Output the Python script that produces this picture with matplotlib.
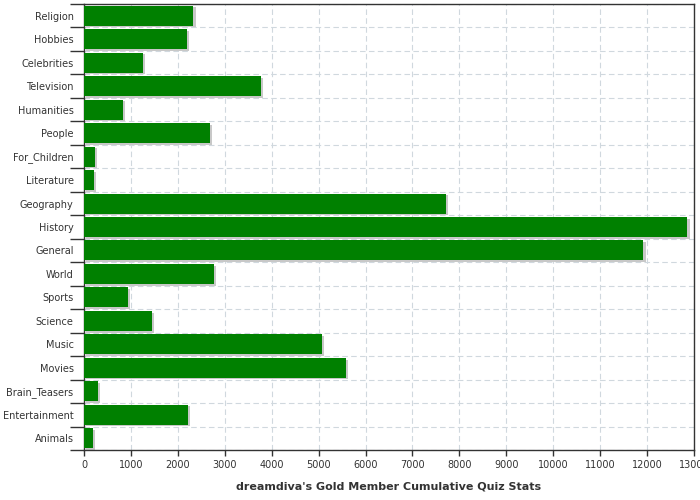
import matplotlib.pyplot as plt
import numpy as np
from matplotlib.ticker import FixedLocator

categories = ['Religion', 'Hobbies', 'Celebrities', 'Television', 'Humanities',
              'People', 'For_Children', 'Literature', 'Geography', 'History',
              'General', 'World', 'Sports', 'Science', 'Music', 'Movies',
              'Brain_Teasers', 'Entertainment', 'Animals']
values = [2329, 2194, 1254, 3775, 827, 2686, 229, 207, 7707, 12855,
          11923, 2772, 940, 1450, 5068, 5580, 292, 2212, 186]
x_ticks = list(range(0, 13001, 1000))

fig = plt.figure(figsize=(7, 5), dpi=100)
ax = fig.add_axes([84 / 700, 50 / 500, 610 / 700, 446 / 500])

y = np.arange(len(categories))
# shadow first, then the bar
ax.barh(y + 0.07, values, height=0.85, left=50, color='#c8c8c8', zorder=2)
ax.barh(y, values, height=0.85, color='#008000', zorder=3)

ax.set_xlim(0, 13000)
ax.set_ylim(len(categories) - 0.5, -0.5)
ax.set_xticks(x_ticks)
ax.set_yticks(y)
ax.set_yticklabels(categories)
ax.yaxis.set_minor_locator(FixedLocator(np.arange(-0.5, len(categories), 1)))
ax.tick_params(axis='y', which='major', length=0, pad=7.5, labelsize=7, labelcolor='#333333')
ax.tick_params(axis='y', which='minor', length=10, width=1, color='#333333')
ax.tick_params(axis='x', which='major', length=4, width=1, color='#333333',
               labelsize=7, labelcolor='#333333')

ax.grid(True, axis='x', which='major', linestyle=(0, (5, 3)), color='#d0d8de', linewidth=0.8, zorder=0)
ax.grid(True, axis='y', which='minor', linestyle=(0, (5, 3)), color='#d0d8de', linewidth=0.8, zorder=0)

for sp in ax.spines.values():
    sp.set_color('#333333')
    sp.set_linewidth(1)

ax.set_xlabel("dreamdiva's Gold Member Cumulative Quiz Stats", fontsize=8,
              fontweight='bold', color='#333333', labelpad=8)

plt.savefig('out.png', dpi=100)
